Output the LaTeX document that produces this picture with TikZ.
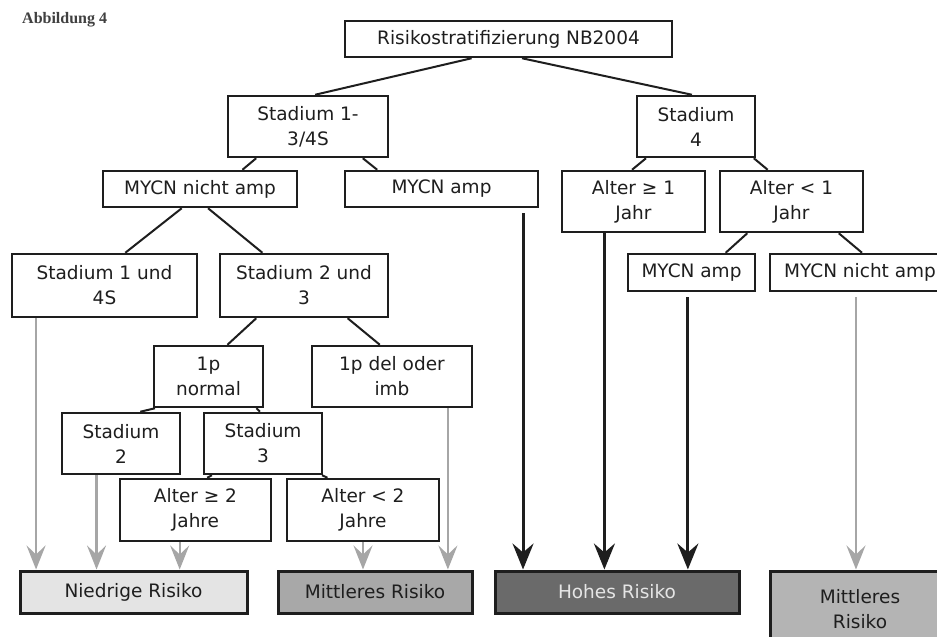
\documentclass[tikz,border=0pt]{standalone}
\usepackage{fontspec}
\setmainfont{DejaVu Sans}
\newfontfamily\titlefont{Liberation Serif}
\usetikzlibrary{arrows.meta,calc}
\definecolor{ink}{HTML}{1E1E1E}
\definecolor{arrgray}{HTML}{A6A6A6}
\definecolor{lowfill}{HTML}{E4E4E4}
\definecolor{midfill}{HTML}{A8A8A8}
\definecolor{highfill}{HTML}{6A6A6A}
\definecolor{midfillr}{HTML}{B4B4B4}
\begin{document}
\begin{tikzpicture}[x=1pt,y=-1pt,
  box/.style={draw=ink, line width=2.5pt, fill=white, inner sep=0pt, align=center,
    font=\fontsize{18.5}{25}\selectfont, text=ink},
  res/.style={box, line width=3pt},
  con/.style={line width=2pt, draw=ink},
  blk/.style={line width=3pt, draw=ink, -{Stealth[length=26pt,width=21pt,inset=9pt]}},
  gry/.style={line width=2.2pt, draw=arrgray, -{Stealth[length=24pt,width=19pt,inset=9pt]}}]
\useasboundingbox (0,0) rectangle (937,637);
\clip (0,0) rectangle (937,637);
\fill[white] (0,0) rectangle (937,637);

\node[anchor=west, inner sep=0pt, text=black!75, font=\titlefont\bfseries\fontsize{16}{18}\selectfont] (title) at (22,20) {Abbildung 4};

% level 0
\node[box, minimum width=327, minimum height=36] (root) at (508.5,39) {Risikostratifizierung NB2004};
% level 1
\node[box, minimum width=160, minimum height=61] (s13) at (308,126.5) {Stadium 1-\\3/4S};
\node[box, minimum width=118, minimum height=61] (s4) at (696,126.5) {Stadium\\4};
% level 2
\node[box, minimum width=194, minimum height=36] (mna) at (200,189) {MYCN nicht amp};
\node[box, minimum width=193, minimum height=36] (ma) at (441.5,189) {MYCN amp};
\node[box, minimum width=143, minimum height=61] (a1g) at (633.5,201.5) {Alter ≥ 1\\Jahr};
\node[box, minimum width=143, minimum height=61] (a1l) at (791.5,201.5) {Alter < 1\\Jahr};
% level 3
\node[box, minimum width=185, minimum height=63] (s14) at (104.5,285.5) {Stadium 1 und\\4S};
\node[box, minimum width=168, minimum height=63] (s23) at (304,285.5) {Stadium 2 und\\3};
\node[box, minimum width=127, minimum height=37] (mar) at (691.5,272.5) {MYCN amp};
\node[box, minimum width=180, minimum height=37] (mnar) at (860,272.5) {MYCN nicht amp};
% level 4
\node[box, minimum width=109, minimum height=61] (p1n) at (208.5,376.5) {1p\\normal};
\node[box, minimum width=160, minimum height=61] (p1d) at (392,376.5) {1p del oder\\imb};
% level 5
\node[box, minimum width=118, minimum height=61] (s2) at (121,443.5) {Stadium\\2};
\node[box, minimum width=118, minimum height=61] (s3) at (263,443.5) {Stadium\\3};
% level 6
\node[box, minimum width=151, minimum height=62] (a2g) at (195.5,510) {Alter ≥ 2\\Jahre};
\node[box, minimum width=152, minimum height=62] (a2l) at (363,510) {Alter < 2\\Jahre};
% results
\node[res, fill=lowfill, minimum width=227, minimum height=42] (nied) at (133.5,592) {Niedrige Risiko};
\node[res, fill=midfill, minimum width=194, minimum height=42] (mitt) at (375,592) {Mittleres Risiko};
\node[res, fill=highfill, text=white!90!black, minimum width=244, minimum height=42] (hoh) at (617,592) {Hohes Risiko};
\node[res, fill=midfillr, minimum width=180, minimum height=76] (mittr) at (860,609) {Mittleres\\Risiko};

% tree connectors
\draw[con] ($(root.south west)!0.388!(root.south east)$) -- ($(s13.north west)!0.544!(s13.north east)$);
\draw[con] ($(root.south west)!0.541!(root.south east)$) -- ($(s4.north west)!0.466!(s4.north east)$);
\draw[con] ($(s13.south west)!0.181!(s13.south east)$) -- ($(mna.north west)!0.716!(mna.north east)$);
\draw[con] ($(s13.south west)!0.8375!(s13.south east)$) -- ($(ma.north west)!0.171!(ma.north east)$);
\draw[con] ($(s4.south west)!0.085!(s4.south east)$) -- ($(a1g.north west)!0.49!(a1g.north east)$);
\draw[con] ($(s4.south west)!0.98!(s4.south east)$) -- ($(a1l.north west)!0.336!(a1l.north east)$);
\draw[con] ($(a1l.south west)!0.196!(a1l.south east)$) -- ($(mar.north west)!0.764!(mar.north east)$);
\draw[con] ($(a1l.south west)!0.825!(a1l.south east)$) -- ($(mnar.north west)!0.511!(mnar.north east)$);
\draw[con] ($(mna.south west)!0.407!(mna.south east)$) -- ($(s14.north west)!0.611!(s14.north east)$);
\draw[con] ($(mna.south west)!0.541!(mna.south east)$) -- ($(s23.north west)!0.256!(s23.north east)$);
\draw[con] ($(s23.south west)!0.22!(s23.south east)$) -- ($(p1n.north west)!0.67!(p1n.north east)$);
\draw[con] ($(s23.south west)!0.756!(s23.south east)$) -- ($(p1d.north west)!0.425!(p1d.north east)$);
\draw[con] ($(p1n.south west)!0.02!(p1n.south east)$) -- ($(s2.north west)!0.66!(s2.north east)$);
\draw[con] ($(p1n.south west)!0.93!(p1n.south east)$) -- ($(s3.north west)!0.475!(s3.north east)$);
\draw[con] ($(s3.south west)!0.076!(s3.south east)$) -- ($(a2g.north west)!0.576!(a2g.north east)$);
\draw[con] ($(s3.south west)!0.99!(s3.south east)$) -- ($(a2l.north west)!0.27!(a2l.north east)$);

% arrows to results
\coordinate (g1) at ($(s14.south west)!0.135!(s14.south east)$);
\coordinate (g2) at ($(s2.south west)!0.297!(s2.south east)$);
\coordinate (g3) at ($(a2g.south west)!0.397!(a2g.south east)$);
\coordinate (g4) at ($(a2l.south west)!0.5!(a2l.south east)$);
\coordinate (g5) at ($(p1d.south west)!0.844!(p1d.south east)$);
\coordinate (g6) at ($(mnar.south west)!0.478!(mnar.south east)$);
\coordinate (k1) at ($(ma.south west)!0.917!(ma.south east)$);
\coordinate (k2) at ($(a1g.south west)!0.30!(a1g.south east)$);
\coordinate (k3) at ($(mar.south west)!0.472!(mar.south east)$);

\draw[gry] (g1) -- (g1 |- nied.north);
\draw[gry] (g2) -- (g2 |- nied.north);
\draw[gry] (g3) -- (g3 |- nied.north);
\draw[gry] (g4) -- (g4 |- mitt.north);
\draw[gry] (g5) -- (g5 |- mitt.north);
\draw[gry, shorten <=5pt] (g6) -- (g6 |- mittr.north);
\draw[blk, shorten <=5pt] (k1) -- (k1 |- hoh.north);
\draw[blk] (k2) -- (k2 |- hoh.north);
\draw[blk, shorten <=5pt] (k3) -- (k3 |- hoh.north);
\end{tikzpicture}
\end{document}
